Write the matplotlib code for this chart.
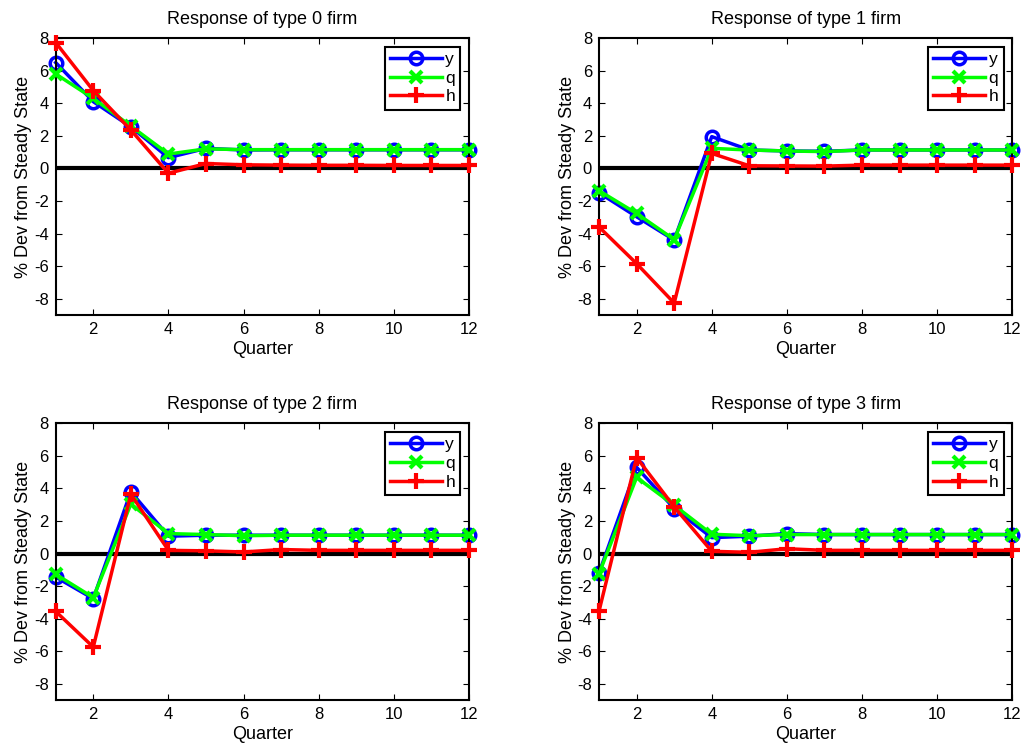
import matplotlib.pyplot as plt
import numpy as np

plt.rcParams['font.family'] = ['Liberation Sans', 'DejaVu Sans']
plt.rcParams['axes.unicode_minus'] = False

quarters = np.arange(1, 13)

# type 0 firm
y0 = [6.5, 4.1, 2.55, 0.66, 1.23, 1.13, 1.14, 1.14, 1.14, 1.14, 1.14, 1.14]
q0 = [5.8, 4.3, 2.6, 0.88, 1.2, 1.15, 1.15, 1.15, 1.15, 1.15, 1.15, 1.15]
h0 = [7.73, 4.78, 2.36, -0.3, 0.3, 0.22, 0.2, 0.19, 0.19, 0.18, 0.18, 0.18]

# type 1 firm
y1 = [-1.5, -2.97, -4.4, 1.95, 1.13, 1.07, 1.05, 1.13, 1.13, 1.13, 1.13, 1.13]
q1 = [-1.37, -2.77, -4.37, 1.23, 1.13, 1.07, 1.03, 1.13, 1.13, 1.13, 1.13, 1.13]
h1 = [-3.6, -5.85, -8.27, 0.92, 0.16, 0.15, 0.14, 0.2, 0.2, 0.2, 0.2, 0.2]

# type 2 firm
y2 = [-1.44, -2.77, 3.8, 1.07, 1.13, 1.13, 1.13, 1.13, 1.13, 1.13, 1.13, 1.13]
q2 = [-1.27, -2.7, 3.04, 1.23, 1.17, 1.1, 1.13, 1.13, 1.13, 1.13, 1.13, 1.13]
h2 = [-3.55, -5.74, 3.65, 0.2, 0.17, 0.1, 0.25, 0.2, 0.2, 0.2, 0.2, 0.2]

# type 3 firm
y3 = [-1.19, 5.3, 2.77, 0.98, 1.07, 1.23, 1.17, 1.17, 1.17, 1.17, 1.17, 1.17]
q3 = [-1.23, 4.68, 2.97, 1.19, 1.1, 1.17, 1.17, 1.17, 1.17, 1.17, 1.17, 1.17]
h3 = [-3.53, 5.9, 2.87, 0.14, 0.08, 0.3, 0.2, 0.2, 0.2, 0.2, 0.2, 0.2]

firm_types = [0, 1, 2, 3]
responses = [(y0, q0, h0), (y1, q1, h1), (y2, q2, h2), (y3, q3, h3)]

fig = plt.figure(figsize=(10.24, 7.48), dpi=100)

# axes boxes [left, bottom, width, height] in figure fractions
boxes = [
    [0.0544, 0.579, 0.4036, 0.370],
    [0.585, 0.579, 0.4036, 0.370],
    [0.0544, 0.064, 0.4036, 0.370],
    [0.585, 0.064, 0.4036, 0.370],
]

for k, box, (ys, qs, hs) in zip(firm_types, boxes, responses):
    ax = fig.add_axes(box)
    ax.axhline(0, color='black', linewidth=3, zorder=1)
    ax.plot(quarters, ys, 'o-', color='blue', linewidth=2.5, markersize=9,
            markeredgewidth=2.5, markerfacecolor='none', label='y', zorder=2,
            clip_on=False)
    ax.plot(quarters, qs, 'x-', color='#00ff00', linewidth=2.5, markersize=8,
            markeredgewidth=3, label='q', zorder=3, clip_on=False)
    ax.plot(quarters, hs, '+-', color='red', linewidth=2.5, markersize=11,
            markeredgewidth=3, label='h', zorder=4, clip_on=False)

    ax.set_xlim(1, 12)
    ax.set_ylim(-9, 8)
    ax.set_xticks([2, 4, 6, 8, 10, 12])
    ax.set_yticks(np.arange(-8, 9, 2))
    ax.tick_params(direction='in', top=True, right=True, labelsize=12,
                   length=4, pad=5)
    for sp in ax.spines.values():
        sp.set_linewidth(1.5)

    ax.set_title(f'Response of type {k} firm', fontsize=13, pad=10)
    ax.set_xlabel('Quarter', fontsize=13, labelpad=3)
    ax.set_ylabel('% Dev from Steady State', fontsize=13, labelpad=1)

    leg = ax.legend(loc='upper right', fontsize=12.5, handlelength=3.0,
                    fancybox=False, edgecolor='black', framealpha=1,
                    borderaxespad=0.5, handletextpad=0.2, labelspacing=0.2,
                    borderpad=0.3)
    leg.get_frame().set_linewidth(1.5)

fig.savefig('out.png', dpi=100)
